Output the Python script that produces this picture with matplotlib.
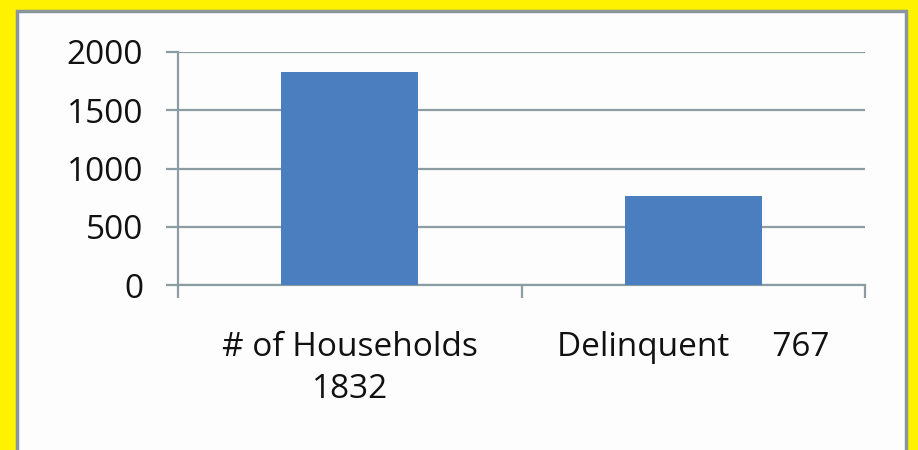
import matplotlib.pyplot as plt
from matplotlib.patches import Rectangle

categories = ["# of Households\n1832", "Delinquent     767"]
values = [1832, 767]
yticks = [0, 500, 1000, 1500, 2000]

grid_col = "#8C9CA3"
bar_col = "#4A7EBE"

fig = plt.figure(figsize=(9.18, 4.5), dpi=100)
fig.patch.set_facecolor("#FFF200")
# white panel with grey frame
fig.patches.append(Rectangle((17 / 918, -0.05), (906 - 17) / 918, (450 - 11) / 450 + 0.05,
                             transform=fig.transFigure, facecolor="#FDFDFE",
                             edgecolor="#8A969B", linewidth=2.5, zorder=-10))

ax = fig.add_axes([178 / 918, 1 - 285 / 450, (865 - 178) / 918, (285 - 52) / 450])
ax.set_zorder(5)
ax.set_facecolor("none")
ax.bar(range(len(values)), values, width=0.4, color=bar_col, zorder=3)

ax.set_xlim(-0.5, 1.5)
ax.set_ylim(0, 2000)
ax.set_yticks(yticks)
ax.yaxis.grid(True, color=grid_col, linewidth=1.6)
ax.set_axisbelow(True)

ax.set_xticks([-0.5, 0.5, 1.5])
ax.set_xticklabels([])
ax.set_xticks([0, 1], minor=True)
ax.set_xticklabels(categories, minor=True, fontsize=24, family="Open Sans",
                   linespacing=1.38, va="top", color="#111111")
ax.tick_params(axis="x", which="major", length=9, width=1.6, color=grid_col, direction="out")
ax.tick_params(axis="x", which="minor", length=0, pad=33)
ax.tick_params(axis="y", length=9, width=1.6, color=grid_col, pad=16)
for lab in ax.get_yticklabels():
    lab.set_fontsize(24)
    lab.set_family("Open Sans")
    lab.set_color("#111111")

for s in ["top", "right"]:
    ax.spines[s].set_visible(False)
for s in ["left", "bottom"]:
    ax.spines[s].set_color(grid_col)
    ax.spines[s].set_linewidth(1.6)

fig.savefig("out.png", dpi=100, facecolor=fig.get_facecolor())
